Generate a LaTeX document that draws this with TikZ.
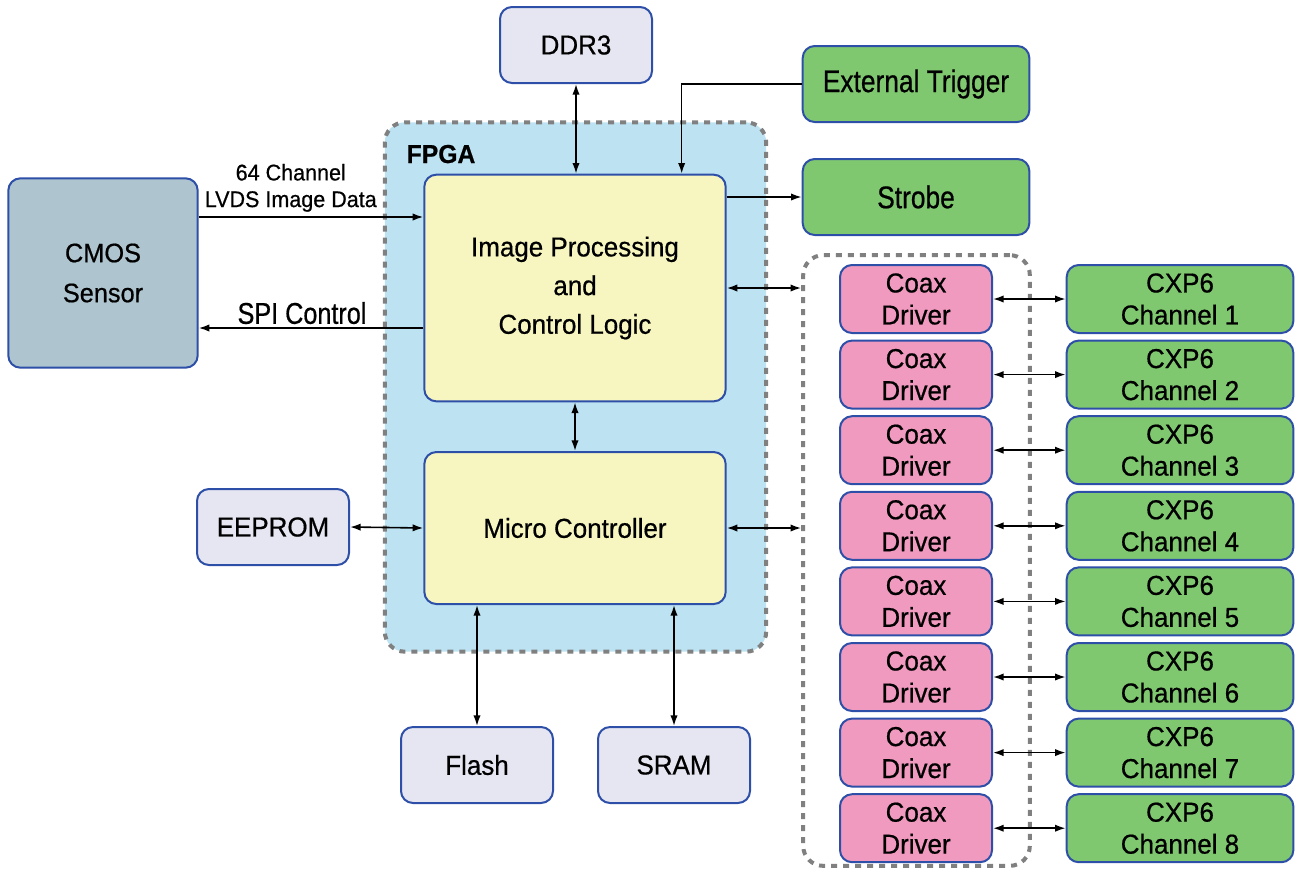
\documentclass[tikz,border=0pt]{standalone}
\usepackage{fontspec}
\setmainfont{Liberation Sans}[FakeStretch=0.95, FakeBold=0.6]
\newfontfamily\condfont{Liberation Sans}[FakeStretch=0.84, FakeBold=0.6]
\usetikzlibrary{arrows.meta}

\definecolor{bordblue}{HTML}{2E4FA8}
\definecolor{lavbox}{HTML}{E6E6F2}
\definecolor{grnbox}{HTML}{80C870}
\definecolor{pinkbox}{HTML}{F19ABF}
\definecolor{yelbox}{HTML}{F7F6C0}
\definecolor{fpgablue}{HTML}{BDE3F3}
\definecolor{cmosbox}{HTML}{AEC5CF}

\tikzset{
  blk/.style={draw=bordblue, line width=1.5pt, rounded corners=9pt, inner sep=0pt,
    align=center, font=\fontsize{20.5}{24}\selectfont},
  membox/.style={blk, fill=lavbox, minimum width=114pt, minimum height=57pt},
  iobox/.style={blk, fill=grnbox, minimum width=170pt, minimum height=57pt,
    font=\condfont\fontsize{23.5}{26}\selectfont},
  drvbox/.style={blk, fill=pinkbox, minimum width=114pt, minimum height=51pt},
  chbox/.style={blk, fill=grnbox, minimum width=170pt, minimum height=51pt},
  logic/.style={blk, fill=yelbox, minimum width=226pt, font=\fontsize{20.5}{29}\selectfont},
  region/.style={draw=gray, line width=3pt, dash pattern=on 4.5pt off 4.5pt,
    rounded corners=15pt, inner sep=0pt},
  conn/.style={line width=1.2pt, {Latex[length=8pt,width=5.5pt]}-{Latex[length=8pt,width=5.5pt]}},
  conn1/.style={line width=1.2pt, -{Latex[length=8pt,width=5.5pt]}}
}

\begin{document}
\begin{tikzpicture}[x=0.75pt,y=-0.75pt]
  \useasboundingbox (0,0) rectangle (1295,869);

  % FPGA and coax driver regions
  \node[region, fill=fpgablue, minimum width=286pt, minimum height=397pt] (fpga) at (575.5,387) {};
  \node[font=\bfseries\fontsize{19.5}{22}\selectfont, anchor=base west] (fpgalbl) at (402,163) {FPGA};
  \node[region, minimum width=170pt, minimum height=458pt] (cx) at (916.5,560.5) {};

  % blocks
  \node[logic, minimum height=170pt] (ip) at (575,288) {Image Processing\\and\\Control Logic};
  \node[logic, minimum height=114pt] (mc) at (575,528) {Micro Controller};
  \node[blk, fill=cmosbox, minimum width=142pt, minimum height=142pt,
    font=\fontsize{20}{30}\selectfont] (cmos) at (103,273) {CMOS\\Sensor};
  \node[membox] (ddr) at (576,45) {DDR3};
  \node[membox] (eeprom) at (273,527) {EEPROM};
  \node[membox] (flash) at (477,765) {Flash};
  \node[membox] (sram) at (674,765) {SRAM};
  \node[iobox] (trig) at (916,84) {External Trigger};
  \node[iobox] (strobe) at (916,197) {Strobe};

  \foreach \i in {1,...,8} {
    \node[drvbox] (drv\i) at (916,{299+(\i-1)*75.6}) {Coax\\Driver};
    \node[chbox] (ch\i) at (1180,{299+(\i-1)*75.6}) {CXP6\\Channel \i};
    \draw[conn] (drv\i.east) -- (ch\i.west);
  }

  % connections
  \draw[conn1] (cmos.east |- 0,217) -- node[above, pos=0.41, align=center,
    font=\fontsize{17}{20}\selectfont] {64 Channel\\LVDS Image Data} (ip.west |- 0,217);
  \draw[conn1] (ip.west |- 0,328) -- node[above, pos=0.54, font=\condfont\fontsize{22.5}{24}\selectfont, yshift=-1pt]
    {SPI Control} (cmos.east |- 0,328);
  \draw[conn] (ddr.south) -- (ddr.south |- ip.north);
  \draw[conn1] (trig.west) -| ([xshift=80pt]ip.north);
  \draw[conn1] (ip.east |- strobe) -- (strobe.west);
  \draw[conn] (ip.south) -- (mc.north);
  \draw[conn] (ip.east) -- (ip.east -| cx.west);
  \draw[conn] (mc.east) -- (mc.east -| cx.west);
  \draw[conn] (eeprom.east) -- (mc.west);
  \draw[conn] (flash.north) -- (flash.north |- mc.south);
  \draw[conn] (sram.north) -- (sram.north |- mc.south);
\end{tikzpicture}
\end{document}
